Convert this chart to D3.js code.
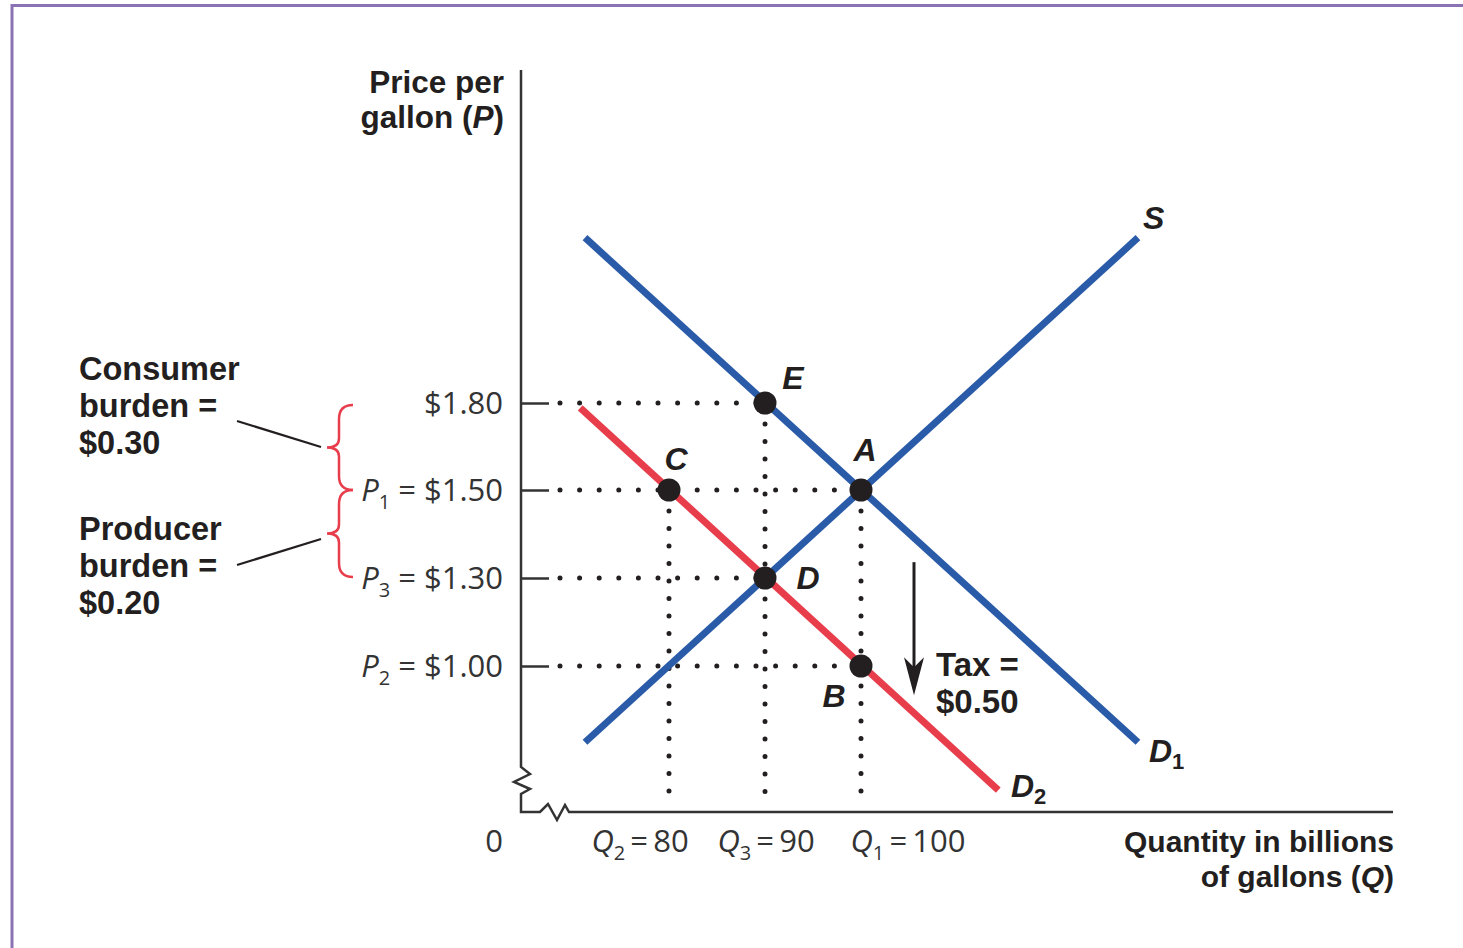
<!DOCTYPE html>
<html>
<head>
<meta charset="utf-8">
<script src="https://cdn.jsdelivr.net/npm/d3@7"></script>
<style>
  html, body { margin: 0; padding: 0; background: #fff; }
  svg { display: block; }
  .bold { font-family: "Liberation Sans", Arial, sans-serif; font-weight: bold; fill: #231f20; }
  .tick-lbl { font-family: "Open Sans", "DejaVu Sans", sans-serif; font-weight: 400; fill: #333; }
</style>
</head>
<body>
<svg id="chart" width="1463" height="948"></svg>
<script>
// ---------- data ----------
const priceTicks = [1.80, 1.50, 1.30, 1.00];
const priceTickLabels = [
  { sym: "", sub: "", text: "$1.80" },
  { sym: "P", sub: "1", text: " = $1.50" },
  { sym: "P", sub: "3", text: " = $1.30" },
  { sym: "P", sub: "2", text: " = $1.00" }
];
const qtyTicks = [80, 90, 100];
const qtyTickLabels = [
  { sym: "Q", sub: "2", text: "\u2009=\u200980" },
  { sym: "Q", sub: "3", text: "\u2009=\u200990" },
  { sym: "Q", sub: "1", text: "\u2009=\u2009100" }
];
const supplyS = [{ q: 71.25, p: 0.74 }, { q: 128.85, p: 2.37 }];
const demandD1 = [{ q: 71.25, p: 2.37 }, { q: 128.85, p: 0.74 }];
const demandD2 = [{ q: 70.75, p: 1.783 }, { q: 114.3, p: 0.577 }];
const pointNames = ["E", "A", "C", "D", "B"];
const pointQ = [90, 100, 80, 90, 100];
const pointP = [1.80, 1.50, 1.50, 1.30, 1.00];
// horizontal guides: price -> quantity reached
const hGuideP = [1.80, 1.50, 1.30, 1.00];
const hGuideQ = [90, 100, 90, 100];
// vertical guides from these points down to the axis
const vGuideQ = [80, 90, 100];
const vGuideP = [1.50, 1.80, 1.50];
const taxTop = 1.336, taxBottom = 0.90;

// ---------- layout ----------
const svg = d3.select("#chart");
const axisLeftX = 521, axisBottomY = 812, axisTopY = 70, axisRightX = 1393;
const x = d3.scaleLinear().domain([80, 100]).range([669, 861]);
const y = d3.scaleLinear().domain([1.00, 1.30, 1.50, 1.80]).range([666, 578, 490, 403]);

const BLUE = "#2a5ba8", RED = "#e83e4c", DARK = "#231f20", AX = "#333";

// border
svg.append("path")
  .attr("d", `M12,948 L12,5.5 L1463,5.5`)
  .attr("fill", "none").attr("stroke", "#8b72b4").attr("stroke-width", 3);

// axes
const g = svg.append("g");
const yAxis = d3.axisLeft(y).tickValues(priceTicks).tickSize(-28).tickFormat("");
const yg = g.append("g").attr("transform", `translate(${axisLeftX},0)`).call(yAxis);
yg.select(".domain").remove();
yg.selectAll(".tick line").attr("stroke", AX).attr("stroke-width", 2.5);

// axis lines with breaks
g.append("path")
  .attr("d", `M${axisLeftX},${axisTopY} L${axisLeftX},767 L530,774 L514,782 L530,789 L${axisLeftX},794 L${axisLeftX},${axisBottomY} L540,${axisBottomY} L548,804 L557,820 L565,805 L569,${axisBottomY} L${axisRightX},${axisBottomY}`)
  .attr("fill", "none").attr("stroke", AX).attr("stroke-width", 2.5).attr("stroke-linejoin", "miter");

// dotted guides
const dotStyle = sel => sel.attr("stroke", DARK).attr("stroke-width", 5)
  .attr("stroke-linecap", "round").attr("stroke-dasharray", "0,19.6").attr("fill", "none");
g.selectAll(".hg").data(hGuideP).join("line").attr("class", "hg")
  .attr("x1", 560).attr("x2", (d, i) => x(hGuideQ[i]) - 8)
  .attr("y1", d => y(d)).attr("y2", d => y(d)).call(dotStyle);
g.selectAll(".vg").data(vGuideQ).join("line").attr("class", "vg")
  .attr("x1", d => x(d)).attr("x2", d => x(d))
  .attr("y1", (d, i) => y(vGuideP[i]) + 21).attr("y2", axisBottomY - 4)
  .call(sel => dotStyle(sel).attr("stroke-dasharray", "0,17.5"));

// curves
const line = d3.line().x(d => x(d.q)).y(d => y(d.p));
const curves = [
  { data: supplyS, color: BLUE },
  { data: demandD1, color: BLUE },
  { data: demandD2, color: RED }
];
g.selectAll(".curve").data(curves).join("path").attr("class", "curve")
  .attr("d", d => line(d.data)).attr("stroke", d => d.color)
  .attr("stroke-width", 7).attr("fill", "none").attr("stroke-linecap", "butt");

// points
g.selectAll(".pt").data(pointNames).join("circle").attr("class", "pt")
  .attr("cx", (d, i) => x(pointQ[i])).attr("cy", (d, i) => y(pointP[i]))
  .attr("r", 11.5).attr("fill", DARK);

// point labels
const lblOff = { E: [28, -25], A: [4, -40], C: [7, -31], D: [43, 0], B: [-27, 30] };
g.selectAll(".pl").data(pointNames).join("text").attr("class", "pl bold")
  .attr("x", (d, i) => x(pointQ[i]) + lblOff[d][0])
  .attr("y", (d, i) => y(pointP[i]) + lblOff[d][1])
  .attr("text-anchor", "middle").attr("dy", "0.35em")
  .attr("font-size", 32).attr("font-style", "italic").text(d => d);

// curve labels
function curveLabel(xp, yp, name, sub) {
  const t = g.append("text").attr("class", "bold").attr("x", xp).attr("y", yp)
    .attr("font-size", 32).attr("font-style", "italic");
  t.append("tspan").text(name);
  if (sub) t.append("tspan").attr("font-size", 22).attr("font-style", "normal").attr("dy", 7).text(sub);
}
curveLabel(1143, 229, "S");
curveLabel(1149, 762, "D", "1");
curveLabel(1011, 797, "D", "2");

// y tick labels
const ylab = g.selectAll(".ylab").data(priceTicks).join("text").attr("class", "tick-lbl")
  .attr("x", 503).attr("y", d => y(d) + 11).attr("text-anchor", "end").attr("font-size", 31);
ylab.each(function (d, i) {
  const t = d3.select(this), L = priceTickLabels[i];
  if (L.sym) {
    t.append("tspan").attr("font-style", "italic").text(L.sym);
    t.append("tspan").attr("font-size", 20).attr("dy", 8).text(L.sub);
    t.append("tspan").attr("dy", -8).text(L.text);
  } else t.text(L.text);
});

// x tick labels
const xLabShift = [-29, 1, 47];
const xlab = g.selectAll(".xlab").data(qtyTicks).join("text").attr("class", "tick-lbl")
  .attr("x", (d, i) => x(d) + xLabShift[i]).attr("y", 852).attr("text-anchor", "middle").attr("font-size", 31);
xlab.each(function (d, i) {
  const t = d3.select(this), L = qtyTickLabels[i];
  t.append("tspan").attr("font-style", "italic").text(L.sym);
  t.append("tspan").attr("font-size", 20).attr("dy", 8).text(L.sub);
  t.append("tspan").attr("dy", -8).text(L.text);
});
g.append("text").attr("class", "tick-lbl").attr("x", 494).attr("y", 852)
  .attr("text-anchor", "middle").attr("font-size", 31).text("0");

// axis titles
const yt = g.append("text").attr("class", "bold").attr("font-size", 31.5).attr("text-anchor", "end");
yt.append("tspan").attr("x", 504).attr("y", 93).text("Price per");
const yt2 = yt.append("tspan").attr("x", 504).attr("y", 128);
yt2.append("tspan").text("gallon (");
yt2.append("tspan").attr("font-style", "italic").text("P");
yt2.append("tspan").text(")");

const xt = g.append("text").attr("class", "bold").attr("font-size", 30).attr("text-anchor", "end");
xt.append("tspan").attr("x", 1394).attr("y", 852).text("Quantity in billions");
const xt2 = xt.append("tspan").attr("x", 1394).attr("y", 887);
xt2.append("tspan").text("of gallons (");
xt2.append("tspan").attr("font-style", "italic").text("Q");
xt2.append("tspan").text(")");

// burden annotations
function block(x0, y0, lines, fs) {
  const t = g.append("text").attr("class", "bold").attr("font-size", fs || 32.5);
  lines.forEach((l, i) => t.append("tspan").attr("x", x0).attr("y", y0 + i * 37).text(l));
}
block(79, 380, ["Consumer", "burden =", "$0.30"]);
block(79, 540, ["Producer", "burden =", "$0.20"]);

g.append("line").attr("x1", 237).attr("y1", 421).attr("x2", 321).attr("y2", 447)
  .attr("stroke", DARK).attr("stroke-width", 2.2);
g.append("line").attr("x1", 237).attr("y1", 565).attr("x2", 321).attr("y2", 539)
  .attr("stroke", DARK).attr("stroke-width", 2.2);

// braces
function brace(top, bot) {
  const mid = (top + bot) / 2, xr = 353, xc = 339, xt = 327;
  return `M${xr},${top} Q${xc},${top} ${xc},${top + 14} L${xc},${mid - 9} Q${xc},${mid} ${xt},${mid} ` +
         `Q${xc},${mid} ${xc},${mid + 9} L${xc},${bot - 14} Q${xc},${bot} ${xr},${bot}`;
}
g.append("path").attr("d", brace(y(1.80) + 2, y(1.50))).attr("fill", "none").attr("stroke", RED).attr("stroke-width", 2.5);
g.append("path").attr("d", brace(y(1.50), y(1.30) - 1)).attr("fill", "none").attr("stroke", RED).attr("stroke-width", 2.5);

// tax arrow
const ax = 914;
g.append("line").attr("x1", ax).attr("x2", ax).attr("y1", y(taxTop)).attr("y2", y(taxBottom) - 20)
  .attr("stroke", DARK).attr("stroke-width", 3);
g.append("path").attr("d", `M${ax - 10},${y(taxBottom) - 38} L${ax},${y(taxBottom)} L${ax + 10},${y(taxBottom) - 38} L${ax},${y(taxBottom) - 28} Z`)
  .attr("fill", DARK);
block(936, 676, ["Tax =", "$0.50"], 33);
</script>
</body>
</html>
